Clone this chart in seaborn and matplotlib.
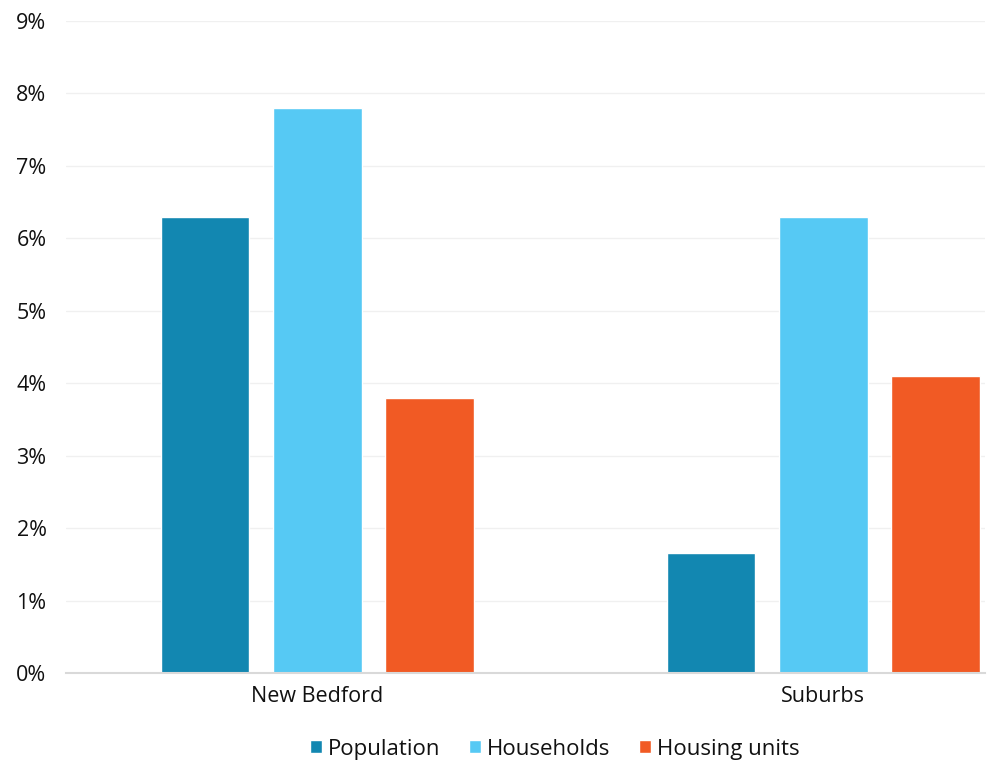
import seaborn as sns
import matplotlib.pyplot as plt
import pandas as pd

# data (percent change)
areas = ["New Bedford", "Suburbs"]
measures = ["Population", "Households", "Housing units"]
population = [6.3, 1.65]
households = [7.8, 6.3]
housing_units = [3.8, 4.1]

colors = ["#1287B1", "#56C9F4", "#F15A24"]

df = pd.DataFrame({
    "area": areas * 3,
    "measure": [m for m in measures for _ in areas],
    "value": population + households + housing_units,
})

sns.set_style("white")
plt.rcParams["font.family"] = ["Open Sans", "DejaVu Sans"]

fig = plt.figure(figsize=(9.92, 7.66), dpi=100)
ax = fig.add_axes([0.0665, 0.1214, 0.9265, 0.8512])

sns.barplot(data=df, x="area", y="value", hue="measure", hue_order=measures,
            palette=colors, width=0.666, gap=0.21, saturation=1,
            ax=ax, legend=True)

ax.set_ylim(0, 9)
ax.set_xlim(-0.497, 1.32)
ax.set_yticks(range(0, 10))
ax.set_yticklabels([f"{i}%" for i in range(0, 10)])
ax.yaxis.grid(True, color="#f0f0f0", linewidth=1)
ax.set_axisbelow(True)
ax.set_xlabel("")
ax.set_ylabel("")
ax.tick_params(axis="both", length=0, labelsize=15.5, colors="#111111")
ax.tick_params(axis="x", pad=9)
ax.tick_params(axis="y", pad=14)
for s in ["top", "right", "left"]:
    ax.spines[s].set_visible(False)
ax.spines["bottom"].set_color("#d9d9d9")
ax.spines["bottom"].set_linewidth(1.5)

handles, labels = ax.get_legend_handles_labels()
ax.legend_.remove()
fig.legend(handles, labels, loc="center", bbox_to_anchor=(0.559, 0.022),
           ncol=3, frameon=False, fontsize=16, handlelength=0.55,
           handleheight=0.55, handletextpad=0.25, columnspacing=1.3,
           labelcolor="#111111")

fig.savefig("out.png", dpi=100)
